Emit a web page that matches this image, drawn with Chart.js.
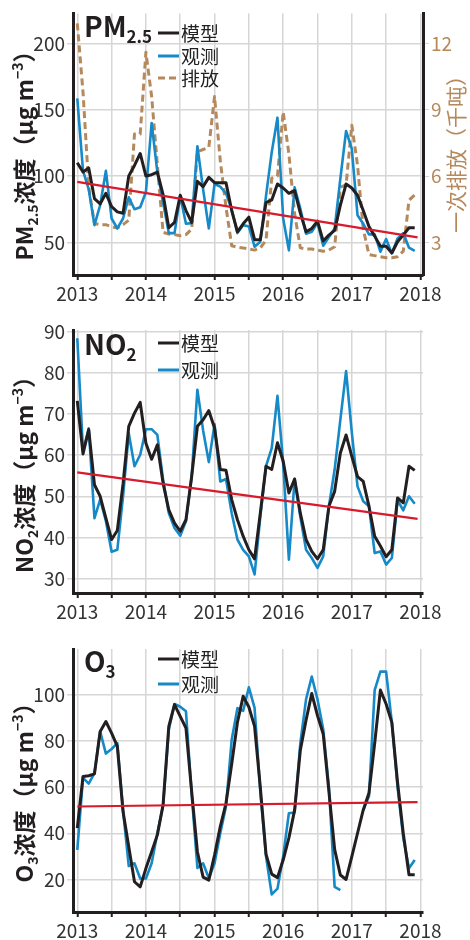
<!DOCTYPE html>
<html>
<head>
<meta charset="utf-8">
<script src="https://cdn.jsdelivr.net/npm/chart.js@4.4.1/dist/chart.umd.min.js"></script>
<style>
  html, body { margin: 0; padding: 0; background: #fff; }
  canvas { display: block; }
</style>
</head>
<body>
<canvas id="pmChart" width="470" height="305"></canvas>
<canvas id="no2Chart" width="470" height="320"></canvas>
<canvas id="o3Chart" width="470" height="315"></canvas>
<script>
// monthly values, Jan 2013 .. Dec 2017
const yearLabels = ["2013", "2014", "2015", "2016", "2017", "2018"];

const pmModel = [110, 103, 106, 83, 79, 87, 77, 73, 72, 100, 108, 117,
    100, 101, 103, 86, 61, 65, 85.5, 74, 65, 96, 92, 99,
    95, 95, 95, 74, 58, 64, 69, 52, 52, 80, 82, 94,
    91, 87, 89, 72, 58, 60.5, 66, 51, 55.5, 59, 78, 94,
    91, 85.5, 74, 62, 54.7, 47, 47, 42, 50.5, 55.5, 61, 61];
const pmObs = [158.5, 104, 90, 63, 78, 104, 68, 60.5, 68, 84, 75, 76.5,
    88, 140, 103, 80, 57, 57, 85, 64, 64.5, 122.5, 90, 60.5,
    94, 92, 87, 75, 57, 63, 62, 46.7, 50.5, 85, 118, 144,
    68, 44, 91.5, 75.5, 56.5, 58, 65, 47.5, 54, 60.5, 98, 134,
    120.5, 70.5, 64, 56, 56, 43, 52.5, 41.7, 53, 57, 46, 43.5];
const pmEmission = [12.9, 9.8, 5.5, 3.85, 3.8, 3.8, 3.7, 3.65, 3.8, 4.0, 7.9, 7.9,
    11.6, 9.6, 6.5, 3.45, 3.38, 3.35, 3.3, 3.35, 3.6, 7.1, 7.2, 7.3,
    9.6, 6.7, 4.6, 2.85, 2.78, 2.75, 2.7, 2.65, 2.75, 3.1, 5.9, 6.0,
    8.9, 7.0, 4.3, 2.75, 2.7, 2.7, 2.65, 2.6, 2.65, 2.8, 5.5, 5.6,
    8.3, 6.5, 3.6, 2.45, 2.4, 2.35, 2.3, 2.3, 2.35, 2.6, 4.9, 5.15];
const pmTrend = [95.6, 53.8];

const no2Model = [73.2, 60.3, 66.2, 52.8, 50, 44.7, 39.5, 41.7, 53, 67, 70.2, 72.8,
    62.9, 59, 62.5, 53.2, 46.7, 43.5, 41.5, 44.3, 54.8, 67, 68.6, 70.8,
    66.6, 56.5, 56.3, 49.2, 44.3, 40.3, 37, 34.8, 45.9, 57.3, 56.5, 63,
    58.5, 50.8, 54.2, 45.9, 39.5, 36.6, 34.8, 37, 47.6, 51.2, 60.5, 64.9,
    59.7, 54.8, 53.6, 47.6, 40.3, 37.9, 35.3, 37, 49.6, 48.4, 57.3, 56.3];
const no2Obs = [88.4, 61, 66.5, 44.7, 49.2, 44, 36.5, 37, 50, 65.3, 57.3, 60.1,
    66.3, 66.3, 64.9, 54, 45.9, 42.3, 40.4, 43.9, 54.8, 75.9, 66, 58.3,
    67.5, 53.6, 54.2, 45.9, 39.5, 37, 35.4, 31, 45, 57.3, 61.7, 74.4,
    58, 34.6, 54.2, 45, 37, 35, 32.6, 35.4, 47.6, 56.5, 68.6, 80.4,
    65.5, 52.4, 48.8, 47.6, 36.2, 36.6, 33.4, 35, 49, 46.6, 50, 48.2];
const no2Trend = [55.8, 44.5];

const o3Model = [42.2, 64.6, 64.9, 65.7, 84.1, 88.4, 83.4, 77.6, 49.4, 34.2, 19, 16.8,
    24.8, 32, 39.3, 52.3, 86.3, 95.7, 90.6, 85.6, 58, 32, 21, 19.7,
    30.6, 42.9, 53, 70, 88, 99.3, 94.7, 86.3, 60, 31, 22.3, 20.8,
    28.4, 38, 50, 76, 89, 100.5, 91, 83, 58, 33, 21.9, 20,
    29.9, 40, 50.1, 57.4, 79, 102, 96, 88, 62, 40, 22, 22];
const o3Obs = [32.8, 64, 61.5, 66, 84, 74.5, 76.5, 79, 50, 25.8, 27, 20.4,
    20.4, 27, 40, 52, 84.8, 96, 94.8, 92.8, 57, 25, 27, 20.5,
    27, 40, 51.6, 80.5, 94.2, 93, 103.2, 94.3, 58, 30, 13.5, 16,
    30, 48.7, 49, 79, 98, 107.9, 98, 85, 60, 16.8, 15.4, null,
    null, null, 50, 56, 102, 110, 110, 88, 60, 38, 24.8, 28.4];
const o3Trend = [51.6, 53.5];

const trendMonths = [0, 59.5];
const xTicks = [0, 6, 12, 18, 24, 30, 36, 42, 48, 54, 60];
const pmTicks = [50, 100, 150, 200];
const emissionTicks = [3, 6, 9, 12];
const no2Ticks = [30, 40, 50, 60, 70, 80, 90];
const o3Ticks = [20, 40, 60, 80, 100];

const FONT = '"Noto Sans CJK SC", "Noto Sans", sans-serif';
const BLACK = "#231f20";
const BLUE = "#1689c8";
const BROWN = "#b5895c";
const RED = "#d71a2c";
const GRID = "#d6d6d6";

const toPoints = arr => arr.map((v, i) => ({ x: i, y: v }));
const trendPoints = arr => arr.map((v, i) => ({ x: trendMonths[i], y: v }));

// text with sub/superscripts, optionally rotated
function drawRich(ctx, parts, x, y, o) {
    const small = Math.round(o.size * 0.62);
    const fontOf = k => `${o.weight} ${k ? small : o.size}px ${FONT}`;
    let w = 0;
    parts.forEach(([t, k]) => { ctx.font = fontOf(k); w += ctx.measureText(t).width; });
    ctx.save();
    ctx.translate(x, y);
    if (o.rotate) ctx.rotate(o.rotate);
    ctx.fillStyle = o.color;
    ctx.textBaseline = "alphabetic";
    let cx = o.center ? -w / 2 : 0;
    parts.forEach(([t, k]) => {
        ctx.font = fontOf(k);
        const dy = k === "sub" ? o.size * 0.22 : k === "sup" ? -o.size * 0.42 : 0;
        ctx.fillText(t, cx, dy);
        cx += ctx.measureText(t).width;
    });
    ctx.restore();
}

const decoPlugin = {
    id: "deco",
    afterDraw(chart, args, opts) {
        const ctx = chart.ctx;
        drawRich(ctx, opts.label, opts.labelX, opts.labelY, { size: 28, weight: "bold", color: BLACK });
        drawRich(ctx, opts.title, 33, opts.titleY, { size: 23, weight: "bold", color: BLACK, rotate: -Math.PI / 2, center: true });
        if (opts.rightTitle) {
            drawRich(ctx, opts.rightTitle, 464, opts.rightTitleY, { size: 21, weight: "normal", color: BROWN, rotate: -Math.PI / 2, center: true });
        }
        // legend
        let k = 0;
        chart.data.datasets.forEach(ds => {
            if (!ds.inLegend) return;
            const y = opts.legendY[k++];
            ctx.save();
            ctx.strokeStyle = ds.borderColor;
            ctx.lineWidth = 3;
            ctx.setLineDash(ds.borderDash || []);
            ctx.beginPath();
            ctx.moveTo(158, y);
            ctx.lineTo(179, y);
            ctx.stroke();
            ctx.restore();
            ctx.font = `19px ${FONT}`;
            ctx.fillStyle = "#222";
            ctx.textBaseline = "middle";
            ctx.fillText(ds.label, 181, y + 1);
        });
    }
};

function xScale(h) {
    return {
        type: "linear",
        min: -0.75,
        max: 60.45,
        afterFit: s => { s.height = h; },
        afterBuildTicks: s => { s.ticks = xTicks.map(v => ({ value: v })); },
        ticks: {
            autoSkip: false,
            maxRotation: 0,
            padding: 2,
            color: "#333",
            font: { family: FONT, size: 19 },
            callback: v => (v % 12 === 0 ? yearLabels[v / 12] : "")
        },
        grid: { color: GRID, lineWidth: 1.5, tickColor: BLACK, tickWidth: 2, tickLength: 5 },
        border: { color: BLACK, width: 3 }
    };
}

function yScale(min, max, tickVals, width, extra) {
    return Object.assign({
        type: "linear",
        min: min,
        max: max,
        afterFit: s => { s.width = width; },
        afterBuildTicks: s => { s.ticks = tickVals.map(v => ({ value: v })); },
        ticks: { padding: 2, color: "#333", font: { family: FONT, size: 19 } },
        grid: { color: GRID, lineWidth: 1.5, tickLength: 6 },
        border: { color: BLACK, width: 3 }
    }, extra || {});
}

function lineSet(label, values, color, width, extra) {
    return Object.assign({
        label: label,
        data: toPoints(values),
        borderColor: color,
        borderWidth: width,
        pointRadius: 0,
        tension: 0,
        fill: false,
        borderJoinStyle: "round",
        inLegend: true
    }, extra || {});
}

function trendSet(values) {
    return {
        label: "trend",
        data: trendPoints(values),
        borderColor: RED,
        borderWidth: 2.2,
        pointRadius: 0,
        fill: false,
        inLegend: false
    };
}

const baseOptions = (padRight, padTop) => ({
    responsive: false,
    animation: false,
    layout: { padding: { top: padTop, right: padRight, left: 0, bottom: 0 } },
    plugins: { legend: { display: false }, tooltip: { enabled: false } }
});

document.addEventListener("DOMContentLoaded", function () {
    // PM2.5
    const pmOptions = baseOptions(0, 13);
    pmOptions.scales = {
        x: xScale(30),
        y: yScale(25.4, 222.6, pmTicks, 73),
        y2: yScale(1.524, 13.356, emissionTicks, 47, {
            position: "right",
            grid: { drawOnChartArea: false, color: GRID, tickLength: 6 },
            ticks: { padding: 2, color: BROWN, font: { family: FONT, size: 19 } }
        })
    };
    pmOptions.plugins.deco = {
        label: [["PM", ""], ["2.5", "sub"]], labelX: 84, labelY: 37,
        title: [["PM", ""], ["2.5", "sub"], ["浓度（μg m", ""], ["−3", "sup"], ["）", ""]], titleY: 150,
        rightTitle: [["一次排放（千吨）", ""]], rightTitleY: 149,
        legendY: [33, 56, 78]
    };
    new Chart(document.getElementById("pmChart"), {
        type: "line",
        data: {
            datasets: [
                trendSet(pmTrend),
                lineSet("模型", pmModel, BLACK, 3),
                lineSet("观测", pmObs, BLUE, 2.6),
                lineSet("排放", pmEmission, BROWN, 3, { yAxisID: "y2", borderDash: [7, 4] })
            ]
        },
        options: pmOptions,
        plugins: [decoPlugin]
    });

    // NO2
    const no2Options = baseOptions(47, 25);
    no2Options.scales = {
        x: xScale(32),
        y: yScale(26.5, 90.4, no2Ticks, 73)
    };
    no2Options.plugins.deco = {
        label: [["NO", ""], ["2", "sub"]], labelX: 84, labelY: 50,
        title: [["NO", ""], ["2", "sub"], ["浓度（μg m", ""], ["−3", "sup"], ["）", ""]], titleY: 164,
        legendY: [38, 65]
    };
    new Chart(document.getElementById("no2Chart"), {
        type: "line",
        data: {
            datasets: [
                trendSet(no2Trend),
                lineSet("模型", no2Model, BLACK, 3),
                lineSet("观测", no2Obs, BLUE, 2.6)
            ]
        },
        options: no2Options,
        plugins: [decoPlugin]
    });

    // O3
    const o3Options = baseOptions(47, 24);
    o3Options.scales = {
        x: xScale(28),
        y: yScale(5.9, 119.8, o3Ticks, 73)
    };
    o3Options.plugins.deco = {
        label: [["O", ""], ["3", "sub"]], labelX: 84, labelY: 47,
        title: [["O", ""], ["3", "sub"], ["浓度（μg m", ""], ["−3", "sup"], ["）", ""]], titleY: 162,
        legendY: [34, 59]
    };
    new Chart(document.getElementById("o3Chart"), {
        type: "line",
        data: {
            datasets: [
                trendSet(o3Trend),
                lineSet("模型", o3Model, BLACK, 3),
                lineSet("观测", o3Obs, BLUE, 2.6)
            ]
        },
        options: o3Options,
        plugins: [decoPlugin]
    });
});
</script>
</body>
</html>
